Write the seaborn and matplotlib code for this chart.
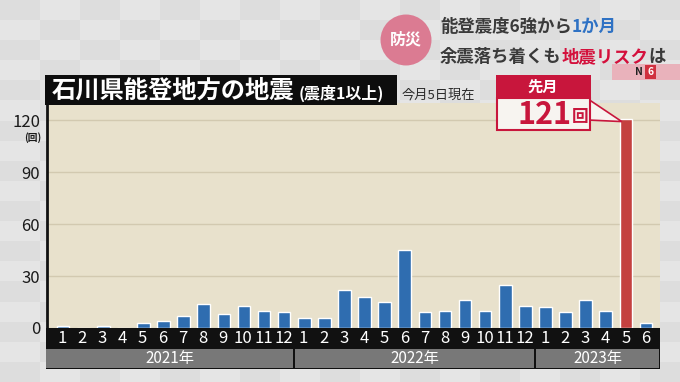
import numpy as np
import pandas as pd
import matplotlib
matplotlib.use("Agg")
import matplotlib.pyplot as plt
from matplotlib.patches import Rectangle, Polygon, Circle
import seaborn as sns

# ---------------- data ----------------
years = ["2021年", "2022年", "2023年"]
year_months = [12, 12, 6]
months = [1,2,3,4,5,6,7,8,9,10,11,12, 1,2,3,4,5,6,7,8,9,10,11,12, 1,2,3,4,5,6]
counts = [1,0,1,0,3,4,7,14,8,13,10,9,
          6,6,22,18,15,45,9,10,16,10,25,13,
          12,9,16,10,121,3]
highlight_index = 28            # 2023-5 (先月)
yticks = [0, 30, 60, 90, 120]

title_main = "石川県能登地方の地震"
title_sub = "(震度1以上)"
asof = "今月5日現在"
callout_head = "先月"
callout_num = "121"
callout_unit = "回"
unit_label = "(回)"

# ---------------- style ----------------
sns.set_theme(style="white")
plt.rcParams["font.family"] = ["Noto Sans CJK JP", "DejaVu Sans"]

W, H = 680, 382
fig = plt.figure(figsize=(W / 100, H / 100), dpi=100)
fig.patch.set_facecolor("#d9d9d9")

def fx(px):
    return px / W

def fy(py):
    return 1 - py / H

# checkered background
bg = fig.add_axes([0, 0, 1, 1], zorder=-10)
rows, cols = 19, 17
pat = np.zeros((rows, cols))
for r in range(rows):
    for c in range(cols):
        pat[r, c] = 0.865 if (r + c) % 2 == 0 else 0.895
bg.imshow(pat, cmap="gray", vmin=0, vmax=1, aspect="auto", interpolation="nearest")
bg.axis("off")

# ---------------- main bars ----------------
labels = [f"{i}" for i in range(len(counts))]
kind = ["hi" if i == highlight_index else "normal" for i in range(len(counts))]
df = pd.DataFrame({"pos": labels, "count": counts, "kind": kind})

ax = fig.add_axes([fx(47), fy(328), fx(660) - fx(47), fy(103) - fy(328)])
ax.set_facecolor("#e8e1cc")
sns.barplot(data=df, x="pos", y="count", hue="kind", order=labels,
            palette={"normal": "#2f6db0", "hi": "#c4403f"},
            dodge=False, legend=False, width=0.63, ax=ax, saturation=1)
xmin, xmax = -0.8, len(counts) - 0.3
ax.set_xlim(xmin, xmax)
ax.set_ylim(0, 130)
ax.set_yticks(yticks)
ax.set_yticklabels([str(v) for v in yticks])
ax.yaxis.grid(True, color="#d2c9b0", lw=1)
ax.set_axisbelow(True)
ax.set_xticks([])
ax.set_xlabel("")
ax.set_ylabel("")
ax.tick_params(axis="y", length=0, pad=5, labelsize=12, labelcolor="#1a1a1a")
for s in ["top", "right", "bottom"]:
    ax.spines[s].set_visible(False)
ax.spines["left"].set_color("#111111")
ax.spines["left"].set_linewidth(2)

fig.text(fx(41), fy(138), unit_label, ha="right", va="center", fontsize=7,
         color="#1a1a1a", fontweight="bold")

# ---------------- month strip + year boxes ----------------
strip = fig.add_axes([fx(46), fy(369), fx(660) - fx(46), fy(328) - fy(369)])
strip.set_facecolor("#111111")
strip.set_xlim(xmin, xmax)
strip.set_ylim(0, 41)
strip.set_xticks([])
strip.set_yticks([])
for s in strip.spines.values():
    s.set_visible(False)
for i, m in enumerate(months):
    strip.text(i, 30.5, str(m), color="white", ha="center", va="center", fontsize=12)
start = xmin
bounds = np.cumsum(year_months)
for k, (yname, b) in enumerate(zip(years, bounds)):
    end = (b - 0.5) if k < len(years) - 1 else xmax
    s0 = start + (0.05 if k > 0 else 0.0)
    strip.add_patch(Rectangle((s0, 1.5), end - s0 - 0.05, 18.5,
                              facecolor="#787878", edgecolor="none"))
    strip.text((s0 + end) / 2, 10.5, yname, color="white", ha="center",
               va="center", fontsize=11)
    start = end

# ---------------- title ----------------
fig.patches.append(Rectangle((fx(45), fy(105)), fx(397) - fx(45), fy(75) - fy(105),
                             transform=fig.transFigure, facecolor="#0d0d0d",
                             edgecolor="none", zorder=5))
fig.text(fx(52), fy(91), title_main, color="white", fontsize=17.5, fontweight="bold",
         ha="left", va="center", zorder=6)
fig.text(fx(299), fy(93), title_sub, color="white", fontsize=11.5, fontweight="bold",
         ha="left", va="center", zorder=6)
fig.text(fx(402), fy(95), asof, color="#2a2a2a", fontsize=9.5, ha="left",
         va="center", zorder=6)

# ---------------- callout ----------------
red = "#c8163c"
fig.canvas.draw()
tip_disp = ax.transData.transform((highlight_index - 0.2, counts[highlight_index]))
tip = fig.transFigure.inverted().transform(tip_disp)
fig.patches.append(Polygon([(fx(588), fy(99)), (tip[0], tip[1] + fy(3) - fy(0)),
                            (fx(588), fy(120))], closed=True,
                           transform=fig.transFigure, facecolor="#f7f4f0",
                           edgecolor=red, lw=1.2, zorder=6))
fig.patches.append(Rectangle((fx(497), fy(130)), fx(590) - fx(497), fy(98) - fy(130),
                             transform=fig.transFigure, facecolor="#f7f4f0",
                             edgecolor=red, lw=1.5, zorder=7))
fig.patches.append(Rectangle((fx(496), fy(98)), fx(591) - fx(496), fy(75) - fy(98),
                             transform=fig.transFigure, facecolor=red,
                             edgecolor="none", zorder=8))
fig.text(fx(543), fy(87), callout_head, color="white", fontsize=11, fontweight="bold",
         ha="center", va="center", zorder=9)
fig.text(fx(571), fy(115), callout_num, color=red, fontsize=22, fontweight="bold",
         ha="right", va="center", zorder=9)
fig.text(fx(572), fy(117), callout_unit, color=red, fontsize=12, fontweight="bold",
         ha="left", va="center", zorder=9)

# ---------------- header (top right) ----------------
circ_ax = fig.add_axes([fx(380), fy(66), fx(52) - fx(0), fy(14) - fy(66)], zorder=4)
circ_ax.set_xlim(-1, 1)
circ_ax.set_ylim(-1, 1)
circ_ax.set_aspect("equal")
circ_ax.axis("off")
circ_ax.add_patch(Circle((0, 0), 0.98, facecolor="#db7b92", edgecolor="none"))
circ_ax.text(0, 0, "防災", color="white", fontsize=11.5, fontweight="bold",
             ha="center", va="center")

renderer = fig.canvas.get_renderer()

def colored_line(x_px, y_px, parts, size):
    x = fx(x_px)
    for txt, col in parts:
        t = fig.text(x, fy(y_px), txt, color=col, fontsize=size, fontweight="bold",
                     ha="left", va="center", zorder=6)
        bb = t.get_window_extent(renderer=renderer)
        x += bb.width / fig.bbox.width

colored_line(440, 27, [("能登震度6強から", "#3a3a3a"), ("1か月", "#2f72c4")], 12.5)
colored_line(440, 57, [("余震落ち着くも", "#3a3a3a"), ("地震リスク", "#d4103c"),
                       ("は", "#3a3a3a")], 12.5)

# N6 logo
fig.patches.append(Rectangle((fx(612), fy(80)), fx(680) - fx(612), fy(64) - fy(80),
                             transform=fig.transFigure, facecolor="#e9b2bb",
                             edgecolor="none", zorder=3))
fig.text(fx(643), fy(72), "N", color="#222222", fontsize=7.5, fontweight="bold",
         ha="right", va="center", zorder=4)
fig.patches.append(Rectangle((fx(645), fy(79)), fx(656) - fx(645), fy(65) - fy(79),
                             transform=fig.transFigure, facecolor="#d0303f",
                             edgecolor="none", zorder=4))
fig.text(fx(650.5), fy(72), "6", color="white", fontsize=7.5, fontweight="bold",
         ha="center", va="center", zorder=5)

fig.savefig("out.png", dpi=100, facecolor=fig.get_facecolor())
